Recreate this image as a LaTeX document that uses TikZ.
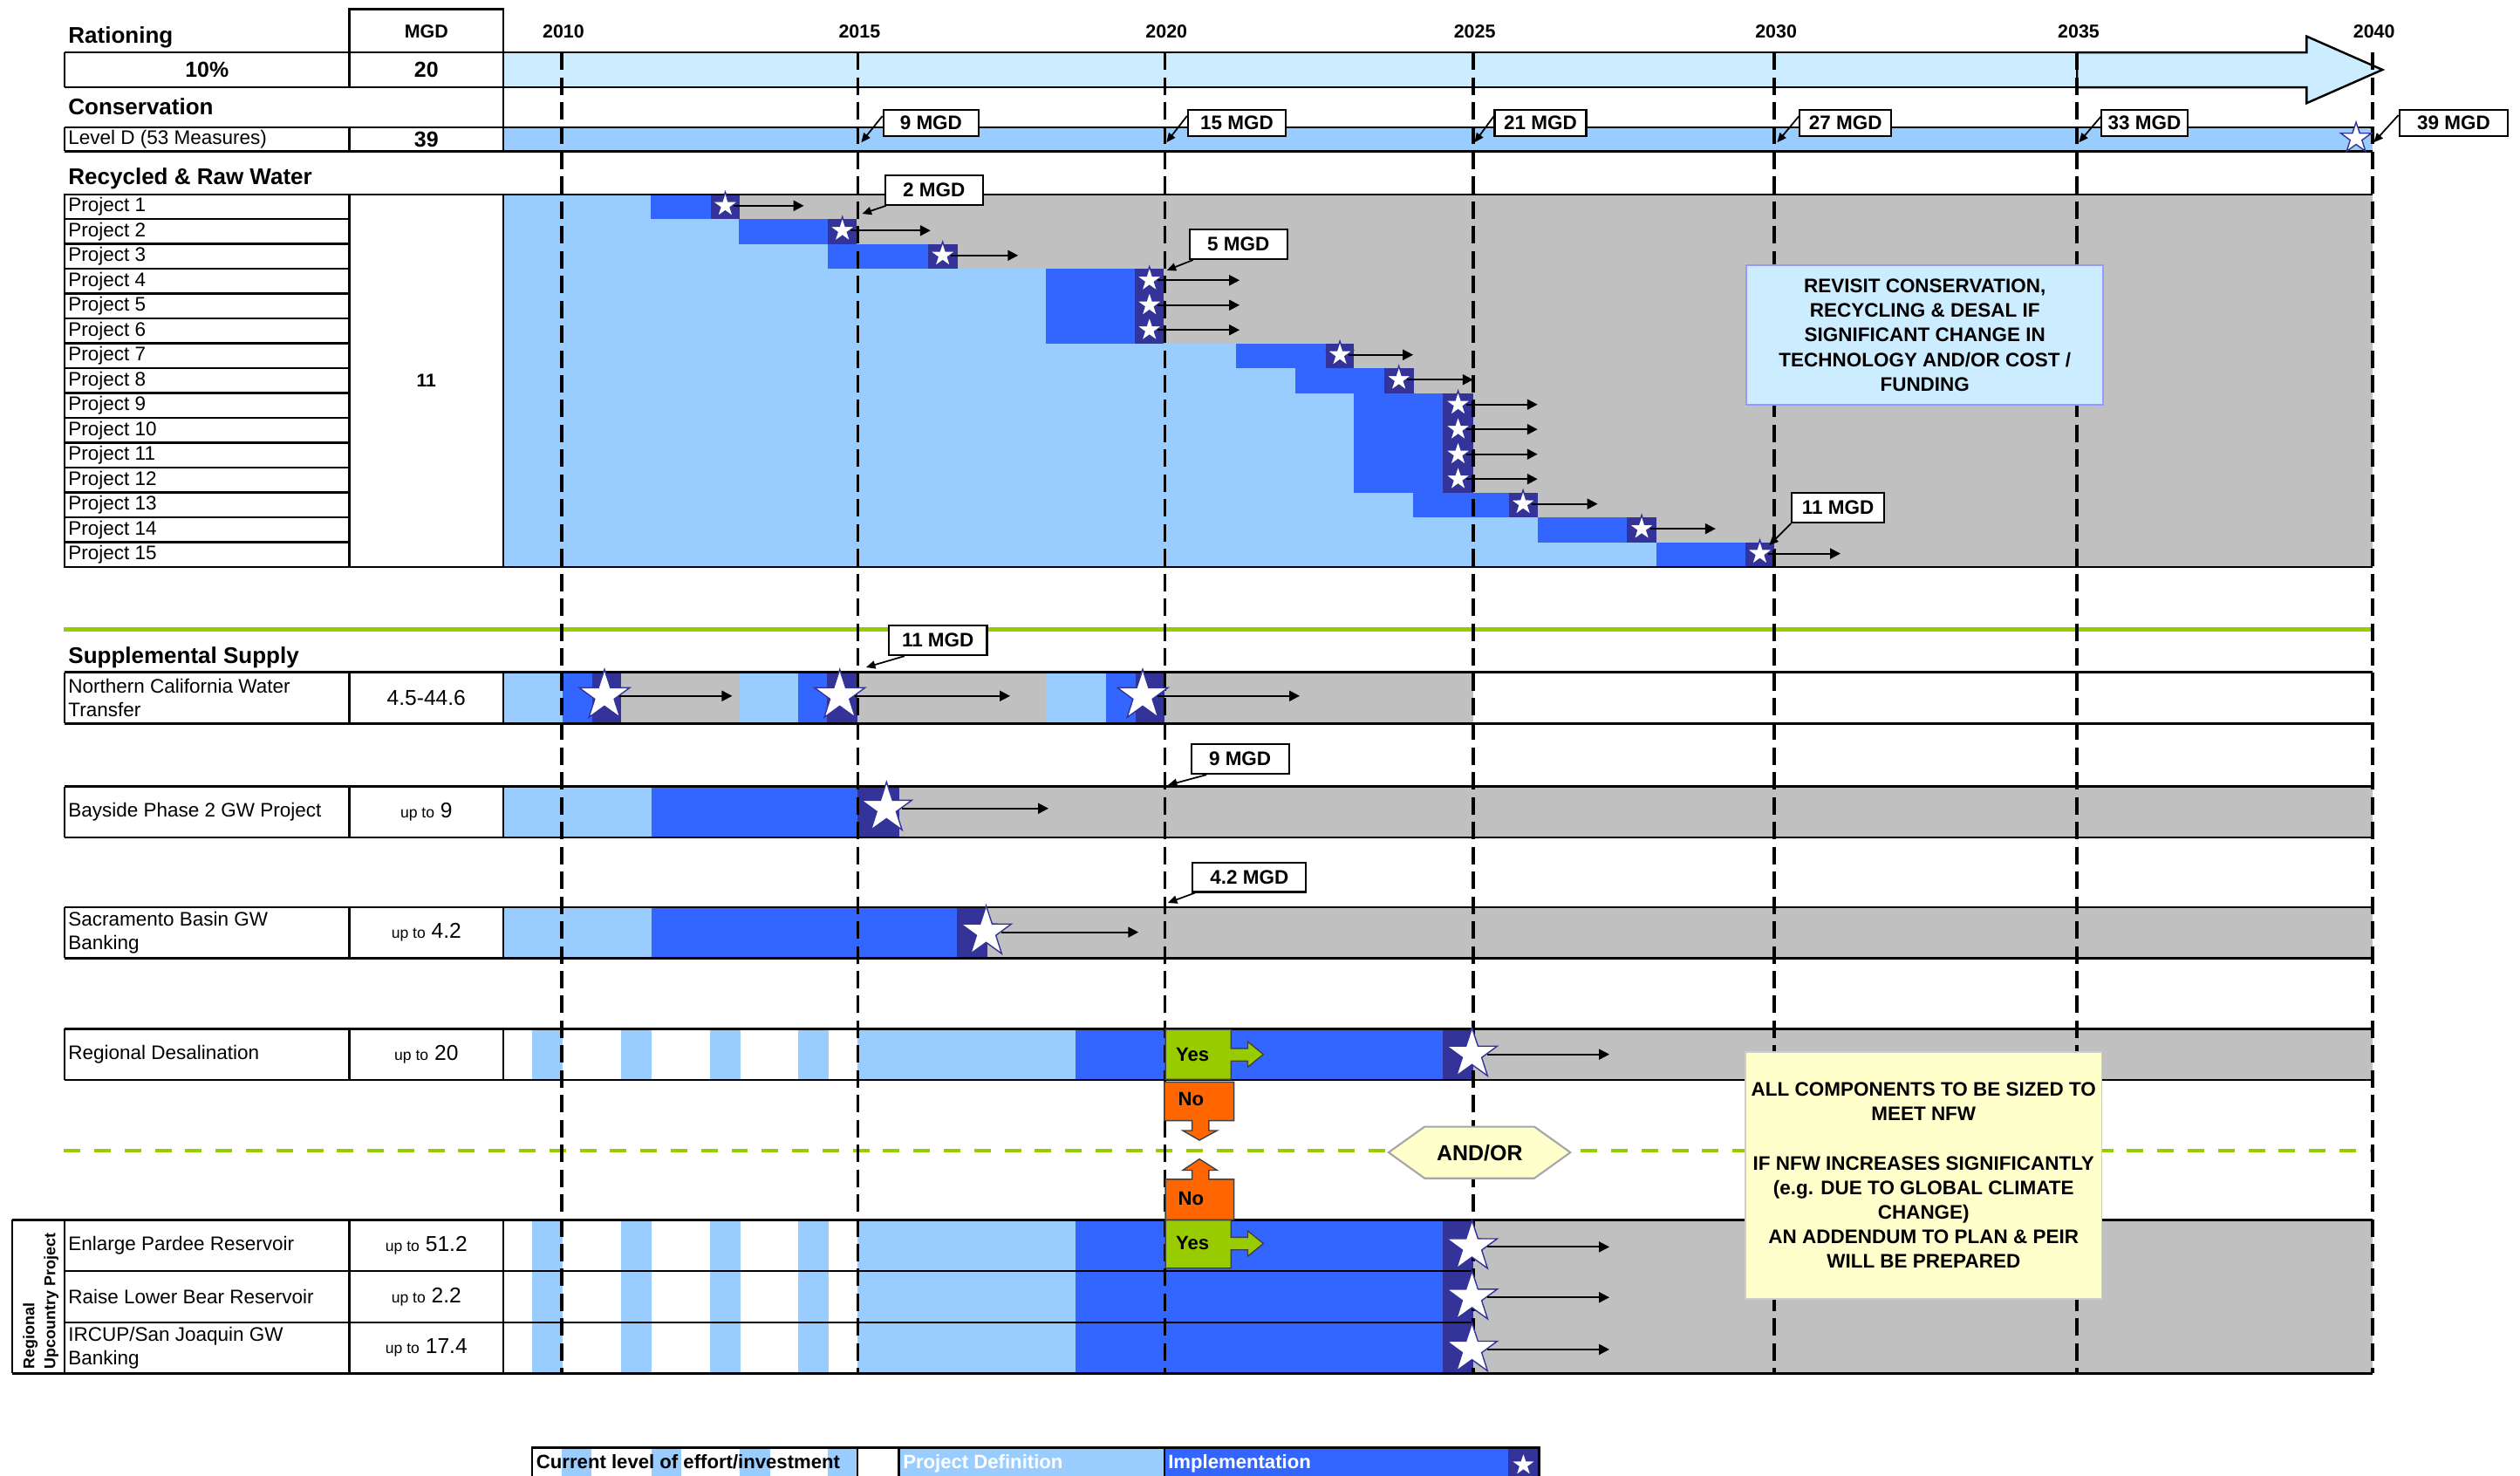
\documentclass[tikz,border=0pt]{standalone}
\usepackage{fontspec}
\setmainfont{Liberation Sans}
\usetikzlibrary{arrows.meta}
\usetikzlibrary{shapes.geometric}

\definecolor{paleblue}{HTML}{CCECFF}
\definecolor{defblue}{HTML}{99CCFF}
\definecolor{impblue}{HTML}{3366FF}
\definecolor{navy}{HTML}{333399}
\definecolor{later}{HTML}{C0C0C0}
\definecolor{decgreen}{HTML}{99CC00}
\definecolor{noorange}{HTML}{FF6600}
\definecolor{noteyellow}{HTML}{FFFFCC}
\definecolor{noteedge}{HTML}{9999FF}

\newcommand{\uptxt}{{\fontsize{5}{6}\selectfont up to}}

\tikzset{
  rowline/.style={line width=0.7pt},
  yearline/.style={line width=1.1pt, dash pattern=on 5.7pt off 2.4pt},
  hdr/.style={anchor=base west, inner sep=0, font=\bfseries\fontsize{7.4}{8.8}\selectfont},
  yr/.style={anchor=base, inner sep=0, font=\bfseries\fontsize{6.1}{7.3}\selectfont},
  big/.style={inner sep=0, font=\bfseries\fontsize{7.1}{8.5}\selectfont},
  lbl/.style={anchor=west, inner sep=0, align=left, font=\fontsize{6.4}{7.9}\selectfont},
  num/.style={inner sep=0, font=\fontsize{7}{8.4}\selectfont},
  mgd/.style={draw, fill=white, line width=0.6pt, inner sep=0, minimum width=31pt,
    minimum height=9.6pt, anchor=west, font=\bfseries\fontsize{6.4}{7.7}\selectfont},
  callout/.style={-{Triangle[length=3pt,width=2.6pt]}, line width=0.5pt},
  go/.style={-{Triangle[length=3.4pt,width=3.4pt]}, line width=0.6pt},
  wstar/.style={star, star points=5, star point ratio=2.6, fill=white, draw=navy,
    line width=0.4pt, inner sep=0, minimum size=8.9pt},
  bigstar/.style={wstar, minimum size=17.3pt},
  note/.style={inner sep=0, align=center, font=\bfseries\fontsize{6.4}{8}\selectfont},
  yesno/.style={draw=black!75, line width=0.4pt},
  choice/.style={inner sep=0, font=\bfseries\fontsize{6.3}{7.5}\selectfont},
  legtxt/.style={anchor=base west, inner sep=0, font=\bfseries\fontsize{6.3}{7.5}\selectfont},
}

\begin{document}
\begin{tikzpicture}[x=0.018425cm, y=-0.018425cm]
\useasboundingbox (0,0) rectangle (1568,918);

% rationing and conservation
\fill[paleblue] (313.3,32.6) rectangle (1292.4,54.3);
\filldraw[fill=paleblue, draw=black, rowline] (1292.4,32.6) -- (1435.2,32.6) -- (1435.2,22.6)
  -- (1482.4,43.4) -- (1435.2,64.2) -- (1435.2,54.3) -- (1292.4,54.3) -- cycle;
\fill[defblue] (313.3,79.1) rectangle (1476.2,94.1);

% recycled and raw water
\foreach \r/\bs/\cs/\ce in {1/405.0/442.1/460.4, 2/459.7/515.1/533.2, 3/515.1/577.4/595.7,
  4/650.7/706.2/724.2, 5/650.7/706.2/724.2, 6/650.7/706.2/724.2, 7/769.1/824.9/842.5,
  8/805.8/861.2/879.6, 9/842.5/897.9/916.6, 10/842.5/897.9/916.6, 11/842.5/897.9/916.6,
  12/842.5/897.9/916.6, 13/879.3/938.7/956.7, 14/956.7/1012.2/1030.8, 15/1030.8/1085.9/1104.1}{
  \pgfmathsetmacro\yt{120.9+(\r-1)*15.46}
  \pgfmathsetmacro\yb{\yt+15.46}
  \fill[defblue] (313.3,\yt) rectangle (\bs,\yb);
  \fill[impblue] (\bs,\yt) rectangle (\cs,\yb);
  \fill[navy] (\cs,\yt) rectangle (\ce,\yb);
  \fill[later] (\ce,\yt) rectangle (1476.2,\yb);
  \draw[rowline] (40.2,\yt) rectangle (217.4,\yb);
  \node[lbl] (pl\r) at (42.2,\yt+7.73) {Project \r};
}

% supplemental supply
\foreach \a/\b/\c in {313.3/350/defblue, 350/368.3/impblue, 368.3/386.3/navy, 386.3/460.4/later,
  460.4/496.8/defblue, 496.8/514.7/impblue, 514.7/533.6/navy, 533.6/650.9/later,
  650.9/688.2/defblue, 688.2/706.7/impblue, 706.7/724.8/navy, 724.8/916.6/later}
  \fill[\c] (\a,418.3) rectangle (\b,450.1);
\foreach \a/\b/\c in {313.3/405.2/defblue, 405.2/533.6/impblue, 533.6/559.3/navy, 559.3/1476.2/later}
  \fill[\c] (\a,489.4) rectangle (\b,521);
\foreach \a/\b/\c in {313.3/405.2/defblue, 405.2/595.2/impblue, 595.2/614.5/navy, 614.5/1476.2/later}
  \fill[\c] (\a,564.4) rectangle (\b,596.1);
\foreach \t/\b in {640.1/671.9, 759/854.5}{
  \foreach \s in {331.3,386.3,441.7,496.7}
    \fill[defblue] (\s,\t) rectangle (\s+19,\b);
  \fill[defblue] (533.4,\t) rectangle (669.1,\b);
  \fill[impblue] (669.1,\t) rectangle (897.9,\b);
  \fill[navy] (897.9,\t) rectangle (916.6,\b);
  \fill[later] (916.6,\t) rectangle (1476.2,\b);
}

% legend
\foreach \s in {349.4,405.2,460.4,515.2}
  \fill[defblue] (\s,900.6) rectangle (\s+18.6,925);
\fill[defblue] (559.2,900.6) rectangle (724.5,925);
\fill[impblue] (724.5,900.6) rectangle (938.2,925);
\fill[navy] (938.2,900.6) rectangle (957.6,925);

% outlines
\draw[rowline] (217.4,5.8) rectangle (313.3,32.6);
\draw[rowline] (40.2,32.6) -- (1292.4,32.6) (40.2,54.3) -- (1292.4,54.3)
  (40.2,32.6) -- (40.2,54.3) (217.4,32.6) -- (217.4,54.3) (313.3,5.8) -- (313.3,94.1);
\draw[rowline] (40.2,79.1) -- (1476.2,79.1) (40.2,94.1) -- (1476.2,94.1)
  (40.2,79.1) -- (40.2,94.1) (217.4,79.1) -- (217.4,94.1);
\draw[rowline] (40.2,120.9) -- (1476.2,120.9) (40.2,352.8) -- (1476.2,352.8)
  (217.4,120.9) rectangle (313.3,352.8);
\foreach \t/\b in {418.3/450.1, 489.4/521, 564.4/596.1, 640.1/671.9}
  \draw[rowline] (40.2,\t) -- (1476.2,\t) (40.2,\b) -- (1476.2,\b) (40.2,\t) -- (40.2,\b)
    (217.4,\t) -- (217.4,\b) (313.3,\t) -- (313.3,\b);
\draw[rowline] (7.6,759) -- (1476.2,759) (7.6,854.5) -- (1476.2,854.5) (7.6,759) -- (7.6,854.5)
  (40.2,759) -- (40.2,854.5) (217.4,759) -- (217.4,854.5) (313.3,759) -- (313.3,854.5)
  (40.2,790.8) -- (916.6,790.8) (40.2,822.7) -- (916.6,822.7);
\draw[rowline] (331,925) -- (331,900.6) -- (957.6,900.6) -- (957.6,925)
  (533.6,900.6) -- (533.6,925) (559.2,900.6) -- (559.2,925) (724.5,900.6) -- (724.5,925);

% separators
\draw[decgreen, line width=1.3pt] (39.8,391.7) -- (1476.2,391.7);
\draw[decgreen, line width=1.3pt, dash pattern=on 5.4pt off 4.5pt] (39.8,715.9) -- (1476.2,715.9);

% years
\node[yr] (mgdhead) at (265.3,23.5) {MGD};
\foreach \x/\yr in {349.6/2010, 533.8/2015, 724.8/2020, 916.6/2025, 1104.1/2030, 1292.4/2035, 1476.2/2040}{
  \node[yr] (y\yr) at (\x+1,23.5) {\yr};
  \draw[yearline] (\x,32.6) -- (\x,854.5);
}

% texts of the left columns
\node[hdr] (ration) at (42.2,27.1) {Rationing};
\node[big] (rpct) at (128.8,43.4) {10\%};
\node[big] (rmgd) at (265.3,43.4) {20};
\node[hdr] (conserv) at (42.2,71.5) {Conservation};
\node[lbl] (leveld) at (42.2,86.6) {Level D (53 Measures)};
\node[big] (levmgd) at (265.3,86.6) {39};
\node[hdr] (recyc) at (42.2,114.9) {Recycled \& Raw Water};
\node[inner sep=0, font=\bfseries\fontsize{6}{7}\selectfont] (recmgd) at (265.3,236.7) {11};
\node[hdr] (suppl) at (42.2,413) {Supplemental Supply};
\node[lbl] (ncwt) at (42.2,434.2) {Northern California Water\\Transfer};
\node[num] (ncwtv) at (265.3,434.2) {4.5-44.6};
\node[lbl] (bay) at (42.2,505.2) {Bayside Phase 2 GW Project};
\node[num] (bayv) at (265.3,505.2) {\uptxt{} 9};
\node[lbl] (sac) at (42.2,580.3) {Sacramento Basin GW\\Banking};
\node[num] (sacv) at (265.3,580.3) {\uptxt{} 4.2};
\node[lbl] (desal) at (42.2,656) {Regional Desalination};
\node[num] (desalv) at (265.3,656) {\uptxt{} 20};
\node[lbl] (pardee) at (42.2,774.9) {Enlarge Pardee Reservoir};
\node[num] (pardeev) at (265.3,774.9) {\uptxt{} 51.2};
\node[lbl] (lbear) at (42.2,806.8) {Raise Lower Bear Reservoir};
\node[num] (lbearv) at (265.3,806.8) {\uptxt{} 2.2};
\node[lbl] (ircup) at (42.2,838.6) {IRCUP/San Joaquin GW\\Banking};
\node[num] (ircupv) at (265.3,838.6) {\uptxt{} 17.4};
\node[rotate=90, anchor=west, align=left, inner sep=0, font=\bfseries\fontsize{5.1}{6.8}\selectfont]
  (upc) at (25.4,852) {Regional\\Upcountry Project};

% milestones
\node[wstar, minimum size=10.5pt] (ldstar) at (1466,86) {};
\foreach \r/\cs/\ce/\ae in {1/442.1/460.4/500.2, 2/515.1/533.2/579.0, 3/577.4/595.7/633.5,
  4/706.2/724.2/771.3, 5/706.2/724.2/771.3, 6/706.2/724.2/771.3, 7/824.9/842.5/879.3,
  8/861.2/879.6/916.6, 9/897.9/916.6/956.7, 10/897.9/916.6/956.7, 11/897.9/916.6/956.7,
  12/897.9/916.6/956.7, 13/938.7/956.7/994.1, 14/1012.2/1030.8/1067.5, 15/1085.9/1104.1/1145.2}{
  \pgfmathsetmacro\ym{120.9+(\r-1)*15.46+7.1}
  \node[wstar] (ps\r) at ({(\cs+\ce)/2},\ym) {};
  \coordinate (pe\r) at (\ae,\ym);
  \draw[go] (ps\r) -- (pe\r);
}
\foreach \n/\x/\ex in {1/376.1/455.6, 2/522.5/628.5, 3/711/808.7}{
  \node[bigstar] (ns\n) at (\x,433) {};
  \coordinate (ne\n) at (\ex,433);
  \draw[go] (ns\n) -- (ne\n);
}
\node[bigstar] (bs) at (551.6,503) {};
\coordinate (be) at (652.4,503);
\draw[go] (bs) -- (be);
\node[bigstar] (ks) at (613.6,580) {};
\coordinate (ke) at (708.4,580);
\draw[go] (ks) -- (ke);
\foreach \n/\y in {0/656, 1/775.8, 2/807.2, 3/839.6}{
  \node[bigstar] (us\n) at (915.9,\y) {};
  \coordinate (ue\n) at (1001.4,\y);
  \draw[go] (us\n) -- (ue\n);
}

% MGD callouts
\foreach \n/\x/\w/\tx in {9/549/31.2/535.9, 15/738.6/31.9/725.8, 21/929.4/29.9/917.5,
  27/1119.2/29.9/1105.8, 33/1307.1/28/1293.5, 39/1492.3/35.5/1477}{
  \node[mgd, minimum height=8.6pt, minimum width=\w pt] (cons\n) at (\x,76.5) {\n~MGD};
  \coordinate (ct\n) at (\tx,88.6);
  \draw[callout] (cons\n.172) -- (ct\n);
}
\node[mgd, minimum width=31.8pt] (rec2) at (550.3,118.3) {2 MGD};
\coordinate (rt2) at (536.5,133);
\draw[callout] (rec2.198) -- (rt2);
\node[mgd, minimum width=31.8pt] (rec5) at (739.7,152) {5 MGD};
\coordinate (rt5) at (726,168.2);
\draw[callout] (rec5.199) -- (rt5);
\node[mgd, minimum width=30.1pt] (rec11) at (1114.4,316) {11 MGD};
\coordinate (rt11) at (1100.8,339.2);
\draw[callout] (rec11.south west) -- (rt11);
\node[mgd, minimum width=32pt] (sup11) at (552.5,398.5) {11 MGD};
\coordinate (st11) at (538.9,415.2);
\draw[callout] (sup11.205) -- (st11);
\node[mgd, minimum width=31.9pt] (bay9) at (740.6,472.3) {9 MGD};
\coordinate (bt9) at (726.7,488.5);
\draw[callout] (bay9.205) -- (bt9);
\node[mgd, minimum width=37pt] (sac42) at (741.6,545.8) {4.2 MGD};
\coordinate (kt42) at (726.7,561.7);
\draw[callout] (sac42.196) -- (kt42);

% decisions
\filldraw[fill=decgreen, yesno] (725.2,640.6) -- (766,640.6) -- (766,652.3) -- (776.4,652.3)
  -- (776.4,648.1) -- (786.1,656) -- (776.4,663.9) -- (776.4,660.1) -- (766,660.1)
  -- (766,671.5) -- (725.2,671.5) -- cycle;
\node[choice] (yes1) at (742,656) {Yes};
\filldraw[fill=noorange, yesno] (724.5,673.2) -- (767.8,673.2) -- (767.8,697.2) -- (752.2,697.2)
  -- (752.2,703.4) -- (757.3,703.4) -- (746.3,709.4) -- (735.9,703.4) -- (741.7,703.4)
  -- (741.7,697.2) -- (724.5,697.2) -- cycle;
\node[choice] (no1) at (741,684) {No};
\filldraw[fill=noorange, yesno] (725.2,759) -- (767.8,759) -- (767.8,733.7) -- (752.2,733.7)
  -- (752.2,728.1) -- (757.3,728.1) -- (746.3,721.1) -- (735.9,728.1) -- (741.7,728.1)
  -- (741.7,733.7) -- (725.2,733.7) -- cycle;
\node[choice] (no2) at (741,745.5) {No};
\filldraw[fill=decgreen, yesno] (725.2,759.1) -- (766,759.1) -- (766,769.8) -- (776.4,769.8)
  -- (776.4,765.8) -- (786.1,773.7) -- (776.4,781.6) -- (776.4,777.6) -- (766,777.6)
  -- (766,789) -- (725.2,789) -- cycle;
\node[choice] (yes2) at (742,773.5) {Yes};
\filldraw[fill=noteyellow, draw=black!35, line width=0.6pt] (864,717) -- (886.4,701) -- (954.7,701)
  -- (977.1,717) -- (954.7,733.1) -- (886.4,733.1) -- cycle;
\node[inner sep=0, font=\bfseries\fontsize{7.1}{8.5}\selectfont] (andor) at (920.7,717.2) {AND/OR};

% notes
\node[note, fill=paleblue, draw=noteedge, line width=0.5pt, minimum width=116.4pt, minimum height=45.6pt]
  (revisit) at (1197.7,208.5) {REVISIT CONSERVATION,\\RECYCLING \& DESAL IF\\SIGNIFICANT CHANGE IN\\TECHNOLOGY AND/OR COST /\\FUNDING};
\node[note, fill=noteyellow, draw=black!20, line width=0.4pt, minimum width=116.2pt, minimum height=80.5pt]
  (nfw) at (1196.9,731.3) {ALL COMPONENTS TO BE SIZED TO\\MEET NFW\\[8pt]IF NFW INCREASES SIGNIFICANTLY\\(e.g. DUE TO GLOBAL CLIMATE\\CHANGE)\\AN ADDENDUM TO PLAN \& PEIR\\WILL BE PREPARED};

% legend texts
\node[legtxt] (legcur) at (333.4,913.6) {Current level of effort/investment};
\node[legtxt, text=white] (legdef) at (561.5,913.6) {Project Definition};
\node[legtxt, text=white] (legimp) at (726.5,913.6) {Implementation};
\node[wstar, minimum size=8.6pt] (legstar) at (947.9,911.5) {};

\end{tikzpicture}
\end{document}
